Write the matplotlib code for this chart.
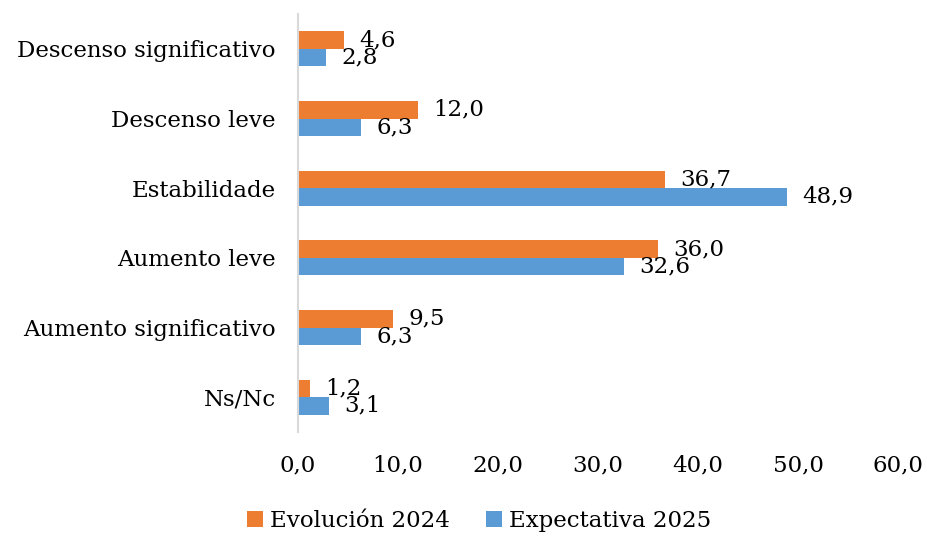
import matplotlib
matplotlib.use("Agg")
import matplotlib.pyplot as plt
import numpy as np

# data
categories = ['Descenso significativo', 'Descenso leve', 'Estabilidade',
              'Aumento leve', 'Aumento significativo', 'Ns/Nc']
evolucion_2024 = [4.6, 12.0, 36.7, 36.0, 9.5, 1.2]
expectativa_2025 = [2.8, 6.3, 48.9, 32.6, 6.3, 3.1]
xticks = [0, 10, 20, 30, 40, 50, 60]

plt.rcParams['font.family'] = ['DejaVu Serif']
plt.rcParams['font.size'] = 16.5

fig = plt.figure(figsize=(9.27, 5.34), dpi=100)
ax = fig.add_axes([298 / 927, 1 - 432 / 534, (898 - 298) / 927, (432 - 14) / 534])

y = np.arange(len(categories))
h = 0.25
r1 = ax.barh(y - h / 2, evolucion_2024, h, color='#ED7D31', label='Evolución 2024')
r2 = ax.barh(y + h / 2, expectativa_2025, h, color='#5B9BD5', label='Expectativa 2025')

for rects, vals in ((r1, evolucion_2024), (r2, expectativa_2025)):
    for rect, v in zip(rects, vals):
        ax.annotate(f'{v:.1f}'.replace('.', ','),
                    xy=(rect.get_width(), rect.get_y() + rect.get_height() / 2),
                    xytext=(11, 0), textcoords='offset points',
                    ha='left', va='center')

ax.set_xlim(0, 60)
ax.set_ylim(len(categories) - 0.5, -0.5)
ax.set_xticks(xticks)
ax.set_xticklabels([f'{t:.1f}'.replace('.', ',') for t in xticks])
ax.set_yticks(y)
ax.set_yticklabels(categories)
ax.tick_params(length=0)
ax.tick_params(axis='x', pad=16)
ax.tick_params(axis='y', pad=16)
for s in ['top', 'right', 'bottom']:
    ax.spines[s].set_visible(False)
ax.spines['left'].set_color('#D9D9D9')
ax.spines['left'].set_linewidth(1.5)

fig.legend(loc='lower center', bbox_to_anchor=(0.517, -0.035), ncol=2, frameon=False,
           handlelength=0.7, handleheight=0.7, handletextpad=0.3, columnspacing=1.6)

plt.savefig('out.png', dpi=100)
